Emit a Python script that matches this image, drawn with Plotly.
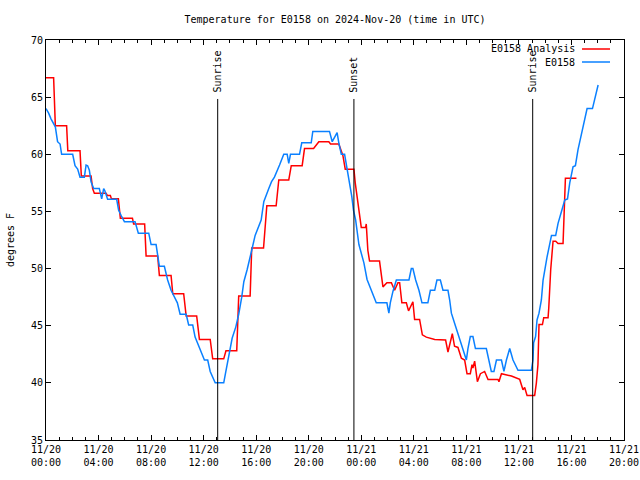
import pandas as pd
import plotly.graph_objects as go

START = pd.Timestamp("2024-11-20 00:00")

# E0158 Analysis (hours since 2024-11-20 00:00 UTC, degrees F)
red_hours = [0, 0.58, 0.71, 1.57, 1.66, 2.59, 2.69, 3.43, 3.55, 3.68, 4.57, 4.67, 4.90, 4.98, 5.51,
             5.66, 6.58, 6.67, 7.51, 7.62, 8.50, 8.63, 9.52, 9.65, 10.48, 10.67, 11.47, 11.68, 12.50,
             12.69, 13.53, 13.70, 14.52, 14.67, 15.54, 15.66, 16.56, 16.81, 17.52, 17.72, 18.48, 18.67,
             19.50, 19.68, 20.37, 20.77, 21.53, 21.66, 22.29, 22.60, 22.78, 23.44, 23.54, 23.70, 23.87,
             24.00, 24.33, 24.38, 24.50, 24.63, 25.39, 25.52, 25.65, 25.95, 26.29, 26.54, 26.79, 26.92,
             27.09, 27.43, 27.60, 27.93, 28.06, 28.44, 28.65, 28.95, 29.59, 30.42, 30.60, 30.93, 31.10,
             31.36, 31.62, 31.87, 32.05, 32.30, 32.43, 32.50, 32.63, 32.84, 33.07, 33.39, 33.65, 34.41,
             34.48, 34.67, 35.43, 36.06, 36.31, 36.44, 36.62, 37.20, 37.33, 37.45, 37.53, 37.79, 37.89,
             38.22, 38.27, 38.42, 38.52, 38.60, 38.80, 38.98, 39.36, 39.47, 39.49, 39.54, 40.38]
red_temp = [66.7, 66.7, 62.5, 62.5, 60.3, 60.3, 58.1, 58.1, 57.0, 56.6, 56.6, 56.4, 56.4, 56.1, 56.1,
            54.4, 54.4, 53.9, 53.9, 51.1, 51.1, 49.4, 49.4, 47.8, 47.8, 45.85, 45.85, 43.8, 43.8,
            42.1, 42.1, 42.8, 42.8, 47.6, 47.6, 51.8, 51.8, 55.5, 55.5, 57.75, 57.75, 59.0,
            59.0, 60.5, 60.5, 61.1, 61.1, 60.9, 60.9, 59.9, 58.7, 58.7, 57.5, 56.1, 54.7,
            53.6, 53.6, 53.9, 51.6, 50.66, 50.66, 49.4, 48.4, 48.76, 48.76, 48.1, 48.76, 48.76,
            47.0, 47.0, 46.3, 47.1, 45.55, 45.55, 44.2, 44.0, 43.8, 43.75, 42.7, 44.3, 43.2,
            43.1, 42.15, 42.0, 40.8, 40.8, 41.6, 41.3, 41.9, 40.1, 40.8, 41.0, 40.3, 40.3,
            40.1, 40.8, 40.6, 40.3, 39.4, 39.6, 38.9, 38.9, 40.0, 41.6, 45.1, 45.1, 45.7,
            45.7, 46.5, 49.9, 51.6, 52.4, 52.4, 52.2, 52.2, 55.1, 56.4, 57.9, 57.9]

# E0158 observations
blue_hours = [0, 0.20, 0.38, 0.71, 0.88, 1.07, 1.19, 2.03, 2.21, 2.41, 2.59, 2.92, 3.05, 3.17, 3.30,
              3.43, 3.63, 4.06, 4.24, 4.39, 4.48, 4.69, 5.38, 5.53, 5.74, 5.97, 6.78, 7.03, 7.82, 8.00,
              8.38, 8.63, 9.01, 9.26, 9.52, 9.85, 10.00, 10.21, 10.67, 10.86, 11.17, 11.35, 11.68,
              12.06, 12.31, 12.50, 12.88, 13.53, 13.66, 13.84, 13.99, 14.17, 14.45, 14.67, 14.90,
              15.06, 15.31, 15.49, 15.70, 15.92, 16.14, 16.38, 16.58, 16.75, 16.96, 17.17, 17.39,
              17.78, 18.10, 18.36, 18.48, 18.61, 19.30, 19.47, 20.19, 20.31, 21.58, 21.79, 22.16,
              22.29, 22.48, 22.73, 22.90, 23.11, 23.28, 23.41, 23.57, 23.82, 24.05, 24.20, 24.44,
              24.76, 25.14, 25.95, 26.10, 26.21, 26.41, 26.67, 27.63, 27.81, 27.93, 28.14, 28.39,
              28.62, 29.07, 29.26, 29.59, 29.76, 30.02, 30.22, 30.60, 30.73, 30.86, 31.11, 31.36,
              31.62, 31.87, 32.00, 32.12, 32.30, 32.50, 32.69, 33.52, 33.72, 33.90, 34.10, 34.29,
              34.67, 34.86, 35.05, 35.30, 35.55, 35.93, 36.95, 37.07, 37.12, 37.27, 37.38, 37.53,
              37.71, 37.84, 38.14, 38.48, 38.80, 38.98, 39.24, 39.49, 39.70, 39.87, 40.12, 40.30,
              40.50, 40.81, 41.02, 41.19, 41.60, 41.78, 42.03]
blue_temp = [64.0, 63.6, 63.1, 62.4, 61.1, 60.9, 60.0, 60.0, 59.0, 58.7, 58.0, 58.0, 59.06, 59.0, 58.6,
             57.6, 57.0, 57.0, 56.1, 57.0, 56.8, 56.06, 56.06, 55.1, 54.6, 54.1, 54.1, 53.1, 53.1, 52.1,
             52.1, 50.2, 50.2, 49.0, 48.1, 47.25, 47.0, 46.0, 46.0, 45.06, 45.06, 44.0, 43.1,
             42.0, 42.0, 41.0, 40.0, 40.0, 40.8, 41.8, 42.9, 43.9, 44.9, 46.0, 47.5,
             48.85, 49.9, 50.9, 51.8, 52.9, 53.5, 54.25, 55.85, 56.3, 57.0, 57.6, 58.0,
             59.06, 60.0, 60.0, 59.2, 60.0, 60.0, 61.0, 61.0, 62.0, 62.0, 61.1, 61.9,
             61.0, 60.0, 60.0, 58.9, 57.6, 56.3, 55.1, 54.25, 52.1, 51.0, 50.5, 49.05,
             48.1, 47.0, 47.0, 46.1, 47.0, 48.0, 49.0, 49.0, 50.0, 50.0, 49.0, 48.1,
             47.0, 47.0, 48.1, 48.1, 49.0, 49.0, 48.1, 48.1, 47.25, 46.1, 45.2, 44.3,
             43.5, 42.6, 42.0, 43.0, 44.05, 44.05, 43.0, 43.0, 42.0, 41.0, 41.0, 42.0,
             42.0, 41.0, 42.0, 43.0, 42.0, 41.1, 41.1, 42.0, 43.5, 44.05, 45.5, 46.1,
             47.25, 49.0, 51.0, 52.9, 52.9, 53.96, 55.0, 56.0, 56.1, 57.5, 58.9, 59.0,
             60.4, 62.0, 63.15, 64.0, 64.0, 64.9, 66.06]

# Sun events (hours since start)
event_hours = [13.07, 23.44, 37.05]
event_labels = ["Sunrise", "Sunset", "Sunrise"]

series_names = ["E0158 Analysis", "E0158"]
series_colors = ["#ff0000", "#0a80ff"]

def to_time(hours):
    return START + pd.to_timedelta(pd.Series(hours), unit="h")

FONT = "DejaVu Sans Mono"

fig = go.Figure()
fig.add_trace(go.Scatter(x=to_time(red_hours), y=red_temp, mode="lines",
                         line=dict(color=series_colors[0], width=1.5), name=series_names[0]))
fig.add_trace(go.Scatter(x=to_time(blue_hours), y=blue_temp, mode="lines",
                         line=dict(color=series_colors[1], width=1.5), name=series_names[1]))

ev_times = to_time(event_hours)
for t, lab in zip(ev_times, event_labels):
    fig.add_shape(type="line", xref="x", yref="y", x0=t, x1=t, y0=35, y1=64.84,
                  line=dict(color="black", width=1))
    fig.add_annotation(x=t, y=65.2, xref="x", yref="y", text=lab, textangle=-90,
                       showarrow=False, xanchor="center", yanchor="bottom",
                       font=dict(family=FONT, size=10, color="black"))

# custom gnuplot-style key (text then sample on the right)
PL, PW = 46, 578
key_rows = [49, 62]
for name, col, py in zip(series_names, series_colors, key_rows):
    yp = (440 - py) / 400
    fig.add_annotation(x=(577 - PL) / PW, y=yp, xref="paper", yref="paper", text=name,
                       showarrow=False, xanchor="right", yanchor="middle",
                       font=dict(family=FONT, size=10, color="black"))
    fig.add_shape(type="line", xref="paper", yref="paper",
                  x0=(582 - PL) / PW, x1=(610 - PL) / PW, y0=yp, y1=yp,
                  line=dict(color=col, width=1.5))

fig.update_layout(
    width=640, height=480,
    margin=dict(l=46, r=16, t=40, b=40, autoexpand=False),
    paper_bgcolor="white", plot_bgcolor="white",
    showlegend=False,
    font=dict(family=FONT, size=10, color="black"),
    title=dict(text="Temperature for E0158 on 2024-Nov-20 (time in UTC)",
               x=0.5, xref="paper", xanchor="center", y=1 - 19 / 480, yref="container",
               yanchor="middle", automargin=False,
               font=dict(family=FONT, size=10, color="black")),
)
fig.update_xaxes(
    type="date", automargin=False,
    range=[START, START + pd.Timedelta(hours=44)],
    tick0=START, dtick=4 * 3600 * 1000, tickformat="%m/%d<br>%H:%M",
    ticks="inside", ticklen=5, tickcolor="black", tickwidth=1,
    minor=dict(dtick=3600 * 1000, ticks="inside", ticklen=3, tickcolor="black", tickwidth=1),
    showline=True, linecolor="black", linewidth=1, mirror="ticks",
    showgrid=False, zeroline=False,
    tickfont=dict(family=FONT, size=10, color="black"),
)
fig.update_yaxes(
    range=[35, 70], dtick=5, tick0=35, automargin=False,
    ticks="inside", ticklen=5, tickcolor="black", tickwidth=1,
    showline=True, linecolor="black", linewidth=1, mirror="ticks",
    showgrid=False, zeroline=False,
    title=dict(text="degrees F", font=dict(family=FONT, size=10, color="black"), standoff=14),
    tickfont=dict(family=FONT, size=10, color="black"),
)

fig.write_html("out.html", config={"displayModeBar": False},
               post_script="document.body.style.margin='0';document.body.style.overflow='hidden';")
